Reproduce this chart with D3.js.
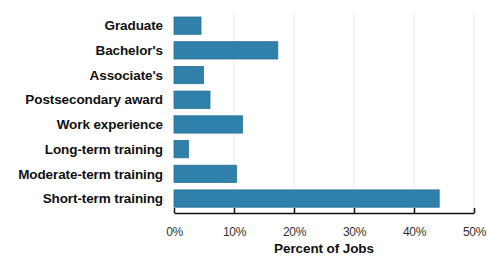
<!DOCTYPE html>
<html><head><meta charset="utf-8">
<script src="https://cdn.jsdelivr.net/npm/d3@7"></script>
<style>
body{margin:0;background:#fff;}
svg{display:block;}
</style></head><body>
<svg id="c" width="487" height="262"></svg>
<script>
const categories = ["Graduate","Bachelor's","Associate's","Postsecondary award","Work experience","Long-term training","Moderate-term training","Short-term training"];
const values = [4.5, 17.3, 4.9, 6.0, 11.4, 2.4, 10.4, 44.2];
const tickValues = [0, 10, 20, 30, 40, 50];
const axisTitle = "Percent of Jobs";

const svg = d3.select("#c");
const x = d3.scaleLinear().domain([0, 50]).range([174, 474]);
const y = d3.scaleBand().domain(categories).range([13.3, 210.9]).paddingInner(0.3).paddingOuter(0.15);

// gridlines
svg.append("g").selectAll("line").data(tickValues.filter(d => d > 0)).join("line")
  .attr("x1", d => x(d)).attr("x2", d => x(d))
  .attr("y1", 12).attr("y2", 213)
  .attr("stroke", "#ebebeb").attr("stroke-width", 1);

// bars
svg.append("g").selectAll("rect").data(values).join("rect")
  .attr("x", x(0))
  .attr("y", (d, i) => y(categories[i]))
  .attr("width", d => x(d) - x(0))
  .attr("height", y.bandwidth())
  .attr("fill", "#2f80ab")
  .attr("stroke", "#2a6f92").attr("stroke-width", 0.8);

// category labels
svg.append("g").selectAll("text").data(categories).join("text")
  .attr("x", 163)
  .attr("y", d => y(d) + y.bandwidth() / 2)
  .attr("dy", "0.35em")
  .attr("text-anchor", "end")
  .attr("font-family", "Liberation Sans, Arial, sans-serif")
  .attr("font-weight", "bold")
  .attr("font-size", 13.5)
  .attr("letter-spacing", -0.1)
  .attr("fill", "#111")
  .text(d => d);

// x axis
const ax = svg.append("g").attr("transform", "translate(0,213)")
  .call(d3.axisBottom(x).tickValues(tickValues).tickFormat(d => d + "%").tickSize(5).tickSizeOuter(0));
ax.select(".domain").attr("stroke", "#111").attr("stroke-width", 1.5);
ax.selectAll(".tick line").attr("stroke", "#111").attr("stroke-width", 1.5).attr("y1", 0).attr("y2", -5);
ax.selectAll(".tick text")
  .attr("y", 14)
  .attr("font-family", "Liberation Sans, Arial, sans-serif")
  .attr("font-size", 12)
  .attr("letter-spacing", -0.4)
  .attr("fill", "#333");

svg.append("text")
  .attr("x", x(25)).attr("y", 253)
  .attr("text-anchor", "middle")
  .attr("font-family", "Liberation Sans, Arial, sans-serif")
  .attr("font-weight", "bold")
  .attr("font-size", 13.5)
  .attr("letter-spacing", -0.1)
  .attr("fill", "#111")
  .text(axisTitle);
</script>
</body></html>
